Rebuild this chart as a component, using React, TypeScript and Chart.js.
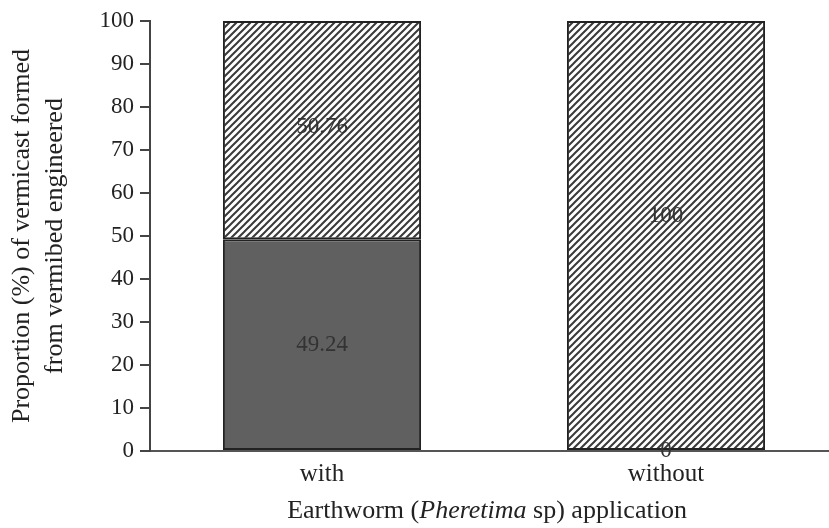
import React, { useEffect, useRef } from "react";
import { Chart, registerables } from "chart.js";

Chart.register(...registerables);

const categories = ["with", "without"];
const darkValues = [49.24, 0];
const hatchValues = [50.76, 100];
const darkLabels = ["49.24", "0"];
const hatchLabels = ["50.76", "100"];
// where each value label sits, in axis units
const darkLabelAt = [24.62, 0];
const hatchLabelAt = [75.38, 54.6];
const yTicks = [0, 10, 20, 30, 40, 50, 60, 70, 80, 90, 100];

const FONT = "'Liberation Serif', 'Times New Roman', serif";

function makeHatch(): CanvasPattern | string {
  const c = document.createElement("canvas");
  const s = 7;
  c.width = s;
  c.height = s;
  const g = c.getContext("2d");
  if (!g) return "#999";
  g.fillStyle = "#ffffff";
  g.fillRect(0, 0, s, s);
  g.strokeStyle = "#3a3a3a";
  g.lineWidth = 2;
  g.beginPath();
  g.moveTo(-1, s + 1);
  g.lineTo(s + 1, -1);
  g.moveTo(-1, 1);
  g.lineTo(1, -1);
  g.moveTo(s - 1, s + 1);
  g.lineTo(s + 1, s - 1);
  g.stroke();
  const p = g.createPattern(c, "repeat");
  return p || "#999";
}

const labelPlugin = {
  id: "valueLabels",
  afterDatasetsDraw(chart: any) {
    const ctx = chart.ctx;
    const y = chart.scales.y;
    ctx.save();
    ctx.fillStyle = "#333";
    ctx.font = `23px ${FONT}`;
    ctx.textAlign = "center";
    ctx.textBaseline = "middle";
    const sets = [
      { texts: darkLabels, at: darkLabelAt },
      { texts: hatchLabels, at: hatchLabelAt },
    ];
    sets.forEach((s, di) => {
      const meta = chart.getDatasetMeta(di);
      meta.data.forEach((el: any, i: number) => {
        ctx.fillText(s.texts[i], el.x, y.getPixelForValue(s.at[i]));
      });
    });
    ctx.restore();
  },
};

const xTitlePlugin = {
  id: "xTitle",
  afterDraw(chart: any) {
    const ctx = chart.ctx;
    const parts = [
      { t: "Earthworm (", italic: false },
      { t: "Pheretima", italic: true },
      { t: " sp) application", italic: false },
    ];
    ctx.save();
    ctx.fillStyle = "#222";
    ctx.textBaseline = "middle";
    ctx.textAlign = "left";
    let total = 0;
    parts.forEach((p) => {
      ctx.font = `${p.italic ? "italic " : ""}26px ${FONT}`;
      total += ctx.measureText(p.t).width;
    });
    let x = 487 - total / 2;
    const yPos = 511;
    parts.forEach((p) => {
      ctx.font = `${p.italic ? "italic " : ""}26px ${FONT}`;
      ctx.fillText(p.t, x, yPos);
      x += ctx.measureText(p.t).width;
    });
    ctx.restore();
  },
};

export default function App() {
  const ref = useRef<HTMLCanvasElement>(null);
  useEffect(() => {
    if (!ref.current) return;
    const hatch = makeHatch();
    const chart = new Chart(ref.current, {
      type: "bar",
      data: {
        labels: categories,
        datasets: [
          {
            label: "dark",
            data: darkValues,
            backgroundColor: "#606060",
            borderColor: "#222",
            borderWidth: 2,
            borderSkipped: false,
            barPercentage: 0.576,
            categoryPercentage: 1,
          },
          {
            label: "hatch",
            data: hatchValues,
            backgroundColor: hatch as any,
            borderColor: "#222",
            borderWidth: 2,
            borderSkipped: false,
            barPercentage: 0.576,
            categoryPercentage: 1,
          },
        ],
      },
      options: {
        responsive: false,
        animation: false,
        layout: { padding: { top: 21, right: 2, left: 0, bottom: 0 } },
        plugins: { legend: { display: false }, tooltip: { enabled: false } },
        scales: {
          x: {
            stacked: true,
            grid: { display: false, drawTicks: false },
            border: { display: true, color: "#555", width: 2 },
            ticks: {
              color: "#222",
              font: { family: FONT, size: 25 },
              padding: 8,
            },
            afterFit: (s: any) => {
              s.height = 77;
            },
          },
          y: {
            stacked: true,
            min: 0,
            max: 100,
            afterBuildTicks: (s: any) => {
              s.ticks = yTicks.map((v) => ({ value: v }));
            },
            grid: {
              display: true,
              drawOnChartArea: false,
              drawTicks: true,
              tickLength: 10,
              color: "#444",
              lineWidth: 2,
            },
            border: { display: true, color: "#444", width: 2 },
            ticks: {
              color: "#222",
              font: { family: FONT, size: 23 },
              padding: 6,
            },
            title: {
              display: true,
              text: ["Proportion (%) of vermicast formed", "from vermibed engineered"],
              color: "#222",
              font: { family: FONT, size: 26, lineHeight: 1.27 },
              padding: { top: 5.5, bottom: 0 },
            },
            afterFit: (s: any) => {
              s.width = 150;
            },
          },
        },
      },
      plugins: [labelPlugin, xTitlePlugin],
    });
    return () => chart.destroy();
  }, []);
  return (
    <div
      style={{
        position: "fixed",
        left: 0,
        top: 0,
        width: 829,
        height: 528,
        overflow: "hidden",
        background: "#fff",
      }}
    >
      <canvas ref={ref} width={840} height={528} style={{ display: "block" }} />
    </div>
  );
}
